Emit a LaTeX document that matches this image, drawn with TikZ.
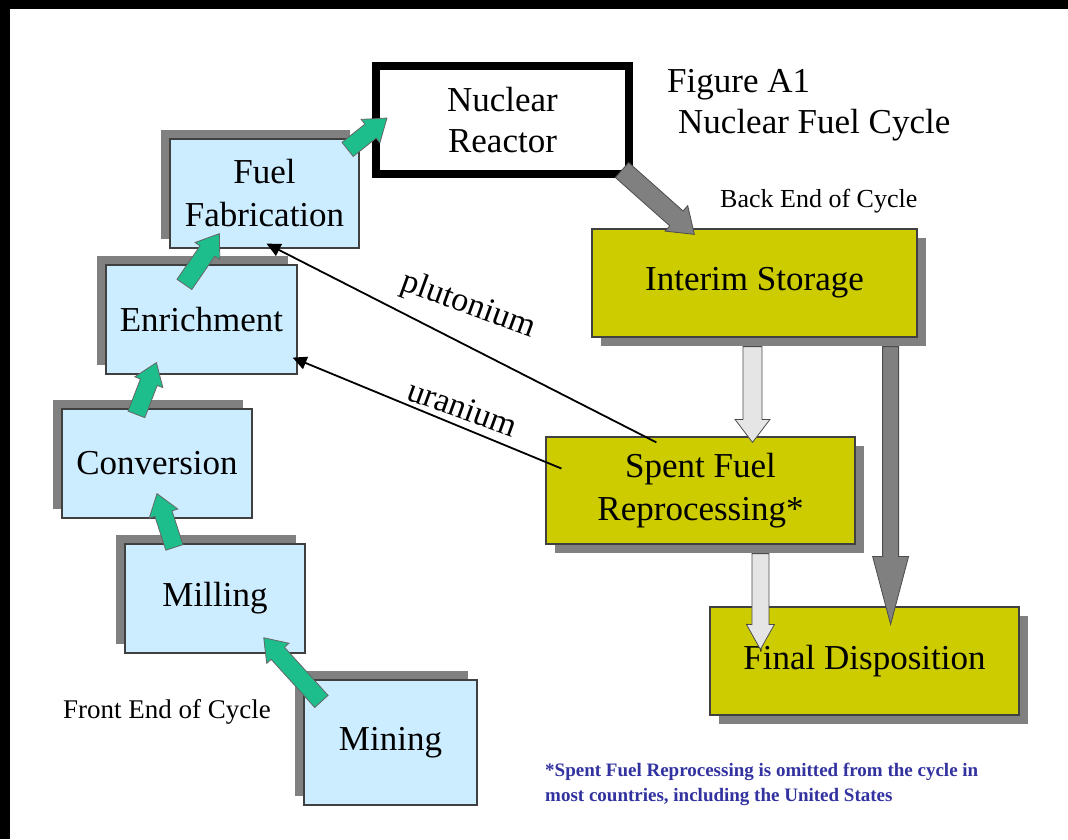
\documentclass[tikz,border=0pt]{standalone}
\usepackage{fontspec}
\setmainfont{Liberation Serif}
\usetikzlibrary{calc}
\usetikzlibrary{shadows}
\usetikzlibrary{arrows.meta}

\definecolor{boxblue}{RGB}{204,236,255}
\definecolor{boxyellow}{RGB}{204,204,0}
\definecolor{shadowgray}{RGB}{128,128,128}
\definecolor{arrgreen}{RGB}{30,190,140}
\definecolor{notecolor}{RGB}{50,50,160}

\tikzset{
  front/.style={draw=black!75, line width=1.2pt, fill=boxblue, align=center, inner sep=0pt,
    font=\fontsize{35}{43}\selectfont,
    drop shadow={shadow xshift=-9pt, shadow yshift=9pt, fill=shadowgray, opacity=1}},
  back/.style={draw=black!75, line width=1.2pt, fill=boxyellow, align=center, inner sep=0pt,
    font=\fontsize{35}{43}\selectfont,
    drop shadow={shadow xshift=9pt, shadow yshift=-9pt, fill=shadowgray, opacity=1}},
  reac/.style={draw=black, line width=8pt, fill=white, align=center, inner sep=0pt,
    font=\fontsize{35}{41}\selectfont},
  greenarr/.style={fill=arrgreen, draw=black!60, line width=0.8pt},
  darkarr/.style={fill=shadowgray, draw=black!70, line width=0.8pt},
  lightarr/.style={fill=black!10, draw=black!70, line width=0.8pt},
  thinarr/.style={line width=1.8pt, -{Triangle[length=14pt,width=13pt]}},
  lbl/.style={inner sep=0pt, font=\fontsize{34}{40}\selectfont},
  captxt/.style={anchor=base west, inner sep=0pt},
}

% block arrow: [style]{from}{to}{half shaft}{half head}{head length}
\newcommand\fatarrow[6][]{%
  \path let \p1=(#2), \p2=(#3) in \pgfextra{%
    \pgfmathsetmacro\fadir{atan2(\y2-\y1,\x2-\x1)}%
    \pgfmathsetmacro\falen{veclen(\x2-\x1,\y2-\y1)}%
    \xdef\fadir{\fadir}\xdef\falen{\falen}%
    \xdef\fax{\x1}\xdef\fay{\y1}};
  \begin{scope}[shift={(\fax,\fay)}, rotate=\fadir]
    \draw[#1] (0pt,-#4) -- ({\falen pt-#6},-#4) -- ({\falen pt-#6},-#5)
      -- (\falen pt,0pt) -- ({\falen pt-#6},#5) -- ({\falen pt-#6},#4)
      -- (0pt,#4) -- cycle;
  \end{scope}}

\begin{document}
\begin{tikzpicture}[x=1pt,y=-1pt]
  \useasboundingbox (0,0) rectangle (1068,839);
  \fill[white] (0,0) rectangle (1068,839);
  \fill[black] (0,0) rectangle (1068,9);
  \fill[black] (0,0) rectangle (10,839);

  % front end
  \node[front, minimum width=189pt, minimum height=109pt] (fab) at (264.5,193.5) {Fuel\\Fabrication};
  \node[front, minimum width=191pt, minimum height=109pt] (enr) at (201.5,319.5) {Enrichment};
  \node[front, minimum width=190pt, minimum height=109pt] (conv) at (157,463.5) {Conversion};
  \node[front, minimum width=180pt, minimum height=109pt] (mill) at (215,598.5) {Milling};
  \node[front, minimum width=173pt, minimum height=125pt] (mine) at (390.5,742.5) {Mining};

  \node[reac, minimum width=253pt, minimum height=108pt] (rct) at (502.5,120) {Nuclear\\Reactor};

  % back end
  \node[back, minimum width=325pt, minimum height=108pt] (stor) at (754.5,283) {Interim Storage};
  \node[back, minimum width=309pt, minimum height=107pt] (repr) at (700.5,490.5) {Spent Fuel\\Reprocessing*};
  \node[back, minimum width=309pt, minimum height=108pt] (disp) at (864.5,661) {Final Disposition};

  \fatarrow[greenarr]{$(mine.north west)+(18,22)$}{$(mill.south east)+(-42,-16)$}{9pt}{15pt}{21pt}
  \fatarrow[greenarr]{$(mill.north west)+(50,4)$}{$(conv.south)+(0,-25)$}{9pt}{15pt}{21pt}
  \fatarrow[greenarr]{$(conv.north west)+(75,6)$}{$(enr.south west)+(51,-12)$}{9pt}{15pt}{21pt}
  \fatarrow[greenarr]{$(enr.north west)+(79,20)$}{$(fab.south west)+(50,-15)$}{9pt}{15pt}{21pt}
  \fatarrow[greenarr]{$(fab.north east)+(-12,11)$}{$(rct.west)+(15,-2)$}{9pt}{15pt}{21pt}

  \fatarrow[darkarr]{$(rct.south east)+(-11,-8)$}{$(stor.north west)+(103,6)$}{10pt}{17pt}{24pt}
  \fatarrow[darkarr]{$(stor.south east)+(-27,9)$}{$(disp.north east)+(-129,18)$}{8pt}{18pt}{68pt}
  \fatarrow[lightarr]{$(stor.south)+(-2,9)$}{$(repr.north)+(52,6)$}{9.5pt}{17.5pt}{23pt}
  \fatarrow[lightarr]{$(repr.south)+(60,9)$}{$(disp.north west)+(51,43)$}{8.5pt}{14pt}{25pt}

  \draw[thinarr] ($(repr.north west)+(111,6)$) -- ($(fab.south)+(2,-5)$);
  \draw[thinarr] ($(repr.west)+(16,-22)$) -- ($(enr.south east)+(-5,-17)$);
  \node[lbl, rotate=-20] (pu) at (468,306) {plutonium};
  \node[lbl, rotate=-20] (ur) at (463,408) {uranium};

  % captions
  \node[captxt, font=\fontsize{35}{43}\selectfont] (fig) at (667,92) {Figure A1};
  \node[captxt, font=\fontsize{35}{43}\selectfont] (ttl) at (678,133) {Nuclear Fuel Cycle};
  \node[captxt, font=\fontsize{26}{30}\selectfont] (bk) at (720,207) {Back End of Cycle};
  \node[captxt, font=\fontsize{27}{30}\selectfont] (fr) at (63,718) {Front End of Cycle};
  \node[anchor=north west, align=left, inner sep=0pt, text=notecolor,
    font=\bfseries\fontsize{19}{25}\selectfont] (note) at (545,763)
    {*Spent Fuel Reprocessing is omitted from the cycle in\\most countries, including the United States};
\end{tikzpicture}
\end{document}
